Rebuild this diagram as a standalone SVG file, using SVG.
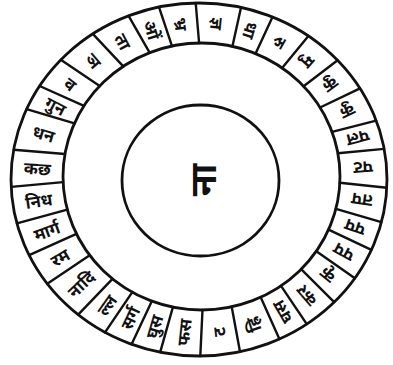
<svg xmlns="http://www.w3.org/2000/svg" width="393" height="365" viewBox="0 0 393 365">
<style>
.ring{fill:none;stroke:#111;stroke-width:2.8}
.sep{stroke:#111;stroke-width:2.4;stroke-linecap:round}
.lb{font-family:"Noto Sans","DejaVu Sans",sans-serif;font-size:17px;font-weight:bold;fill:#111;text-anchor:middle;dominant-baseline:central}
.ctr{font-family:"Noto Sans","DejaVu Sans",sans-serif;font-size:36px;font-weight:bold;fill:#111;text-anchor:middle;dominant-baseline:central}
</style>
<rect width="393" height="365" fill="#fff"/>
<g id="ring">
<ellipse class="ring" cx="199" cy="179.5" rx="188" ry="176.5"/>
<ellipse class="ring" cx="201.5" cy="176.5" rx="138.5" ry="133.5"/>
</g>
<g id="centre">
<ellipse class="ring" cx="200.5" cy="180.5" rx="78.5" ry="75.5"/>
<text class="ctr" transform="translate(202,180) rotate(-90)">ना</text>
</g>
<g id="connectors">
<line class="sep" x1="149.6" y1="52.7" x2="128.6" y2="15.9"/>
<line class="sep" x1="172.0" y1="46.1" x2="159.0" y2="7.1"/>
<line class="sep" x1="199.1" y1="43.0" x2="195.7" y2="3.0"/>
<line class="sep" x1="232.4" y1="46.4" x2="241.0" y2="7.4"/>
<line class="sep" x1="255.6" y1="53.6" x2="272.5" y2="17.0"/>
<line class="sep" x1="282.1" y1="68.0" x2="308.4" y2="36.0"/>
<line class="sep" x1="303.6" y1="86.3" x2="337.6" y2="60.3"/>
<line class="sep" x1="320.1" y1="107.5" x2="360.0" y2="88.3"/>
<line class="sep" x1="332.1" y1="131.9" x2="376.2" y2="120.6"/>
<line class="sep" x1="337.9" y1="153.3" x2="384.1" y2="148.9"/>
<line class="sep" x1="339.8" y1="182.8" x2="386.8" y2="187.8"/>
<line class="sep" x1="335.9" y1="208.8" x2="381.4" y2="222.2"/>
<line class="sep" x1="328.5" y1="229.7" x2="371.4" y2="249.9"/>
<line class="sep" x1="316.3" y1="251.2" x2="354.9" y2="278.2"/>
<line class="sep" x1="301.1" y1="269.2" x2="334.2" y2="302.1"/>
<line class="sep" x1="281.0" y1="285.9" x2="306.8" y2="324.1"/>
<line class="sep" x1="260.7" y1="297.2" x2="279.4" y2="339.1"/>
<line class="sep" x1="231.7" y1="306.8" x2="240.0" y2="351.7"/>
<line class="sep" x1="202.5" y1="310.0" x2="200.3" y2="356.0"/>
<line class="sep" x1="172.9" y1="307.1" x2="160.2" y2="352.2"/>
<line class="sep" x1="151.9" y1="301.1" x2="131.6" y2="344.3"/>
<line class="sep" x1="132.3" y1="292.1" x2="105.0" y2="332.4"/>
<line class="sep" x1="112.5" y1="278.8" x2="78.2" y2="314.7"/>
<line class="sep" x1="89.7" y1="255.3" x2="47.3" y2="283.7"/>
<line class="sep" x1="76.4" y1="233.8" x2="29.2" y2="255.2"/>
<line class="sep" x1="67.3" y1="209.7" x2="16.9" y2="223.4"/>
<line class="sep" x1="63.1" y1="182.1" x2="11.2" y2="186.9"/>
<line class="sep" x1="65.0" y1="154.0" x2="13.7" y2="149.8"/>
<line class="sep" x1="74.5" y1="123.3" x2="26.6" y2="109.1"/>
<line class="sep" x1="84.0" y1="105.8" x2="39.6" y2="86.0"/>
<line class="sep" x1="99.7" y1="86.0" x2="60.8" y2="59.8"/>
<line class="sep" x1="123.3" y1="66.4" x2="92.8" y2="33.9"/>
</g>
<g id="labels">
<text class="lb" transform="translate(152.1,29.9) rotate(72.85)">ओं</text>
<text class="lb" transform="translate(181.3,24.0) rotate(83.35)">भ्र</text>
<text class="lb" transform="translate(217.2,23.8) rotate(95.95)">ज्ञ</text>
<text class="lb" transform="translate(250.6,30.5) rotate(107.95)">धा</text>
<text class="lb" transform="translate(280.1,42.8) rotate(119.3)">रु</text>
<text class="lb" transform="translate(308.5,62.0) rotate(131.55)">मु</text>
<text class="lb" transform="translate(331.0,85.2) rotate(143.2)">कु</text>
<text class="lb" transform="translate(347.8,111.8) rotate(154.7)">कु</text>
<text class="lb" transform="translate(358.1,138.5) rotate(165.25)">पल</text>
<text class="lb" transform="translate(363.2,168.1) rotate(176.35)">पट</text>
<text class="lb" transform="translate(361.8,200.5) rotate(188.35)">तप</text>
<text class="lb" transform="translate(354.8,227.8) rotate(198.75)">पप</text>
<text class="lb" transform="translate(343.4,252.6) rotate(208.75)">पप</text>
<text class="lb" transform="translate(327.1,275.5) rotate(219)">कृ</text>
<text class="lb" transform="translate(306.3,295.9) rotate(229.5)">कर</text>
<text class="lb" transform="translate(282.2,312.0) rotate(239.85)">घस</text>
<text class="lb" transform="translate(253.3,324.6) rotate(251.05)">ह्रि</text>
<text class="lb" transform="translate(218.7,332.0) rotate(263.5)">ट</text>
<text class="lb" transform="translate(183.9,332.2) rotate(275.75)">फस</text>
<text class="lb" transform="translate(154.0,326.7) rotate(286.45)">घुस</text>
<text class="lb" transform="translate(130.0,317.9) rotate(295.5)">सर्ग</text>
<text class="lb" transform="translate(106.6,305.0) rotate(305)">ल्ल</text>
<text class="lb" transform="translate(81.0,283.9) rotate(316.9)">नादि</text>
<text class="lb" transform="translate(60.0,257.4) rotate(329.2)">रम</text>
<text class="lb" transform="translate(46.7,230.8) rotate(340.1)">मार्ग</text>
<text class="lb" transform="translate(38.7,200.6) rotate(351.6)">निध</text>
<text class="lb" transform="translate(37.3,168.1) rotate(3.65)">कछ</text>
<text class="lb" transform="translate(43.8,133.7) rotate(16.6)">धन</text>
<text class="lb" transform="translate(55.8,105.8) rotate(27.75)">गुन</text>
<text class="lb" transform="translate(70.5,83.9) rotate(37.35)">व</text>
<text class="lb" transform="translate(93.5,60.7) rotate(49.15)">ञ</text>
<text class="lb" transform="translate(123.1,41.4) rotate(61.8)">ता</text>
</g>
</svg>
